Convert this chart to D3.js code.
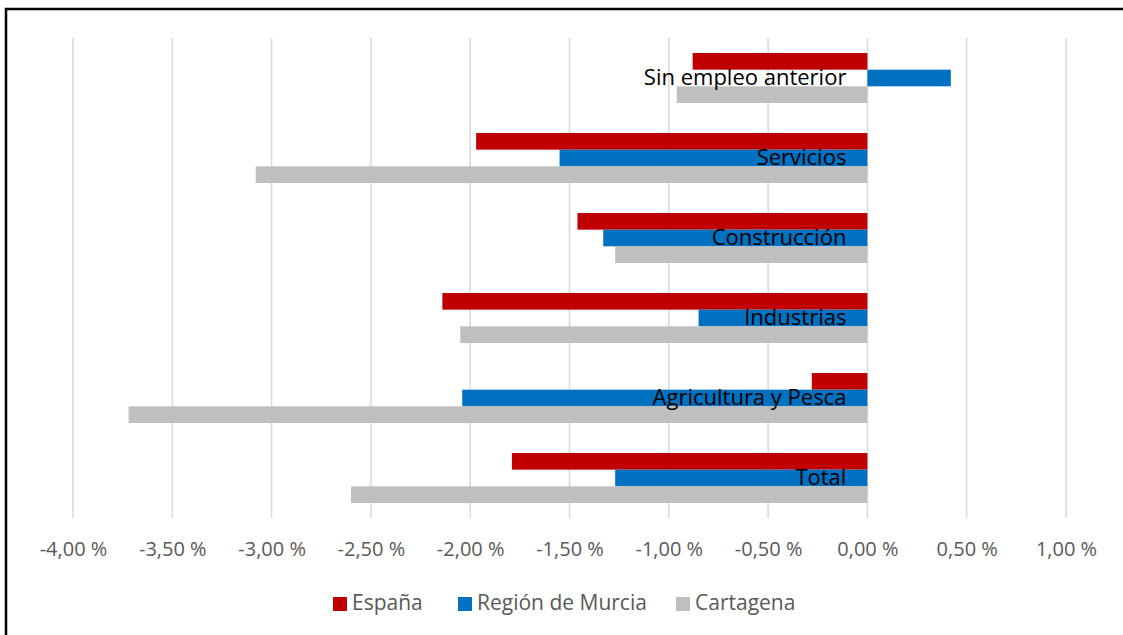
<!DOCTYPE html>
<html>
<head>
<meta charset="utf-8">
<script src="https://cdn.jsdelivr.net/npm/d3@7"></script>
<style>
  body { margin: 0; background: #fff; }
  svg { display: block; font-family: "Open Sans", sans-serif; }
</style>
</head>
<body>
<svg></svg>
<script>
const categories = ['Sin empleo anterior', 'Servicios', 'Construcción', 'Industrias', 'Agricultura y Pesca', 'Total'];
const seriesNames = ['España', 'Región de Murcia', 'Cartagena'];
const espana = [-0.88, -1.97, -1.46, -2.14, -0.28, -1.79];
const murcia = [0.42, -1.55, -1.33, -0.85, -2.04, -1.27];
const cartagena = [-0.96, -3.08, -1.27, -2.05, -3.72, -2.60];
const xTicks = [-4, -3.5, -3, -2.5, -2, -1.5, -1, -0.5, 0, 0.5, 1];
const colors = ['#c00000', '#0070c0', '#bfbfbf'];

const w = 1123;
const h = 635;
let svg = d3.select('svg').attr('width', w).attr('height', h);

// frame
svg.append('rect')
   .attr('x', 6).attr('y', 9)
   .attr('width', w + 20).attr('height', h + 20)
   .attr('fill', 'none').attr('stroke', '#000').attr('stroke-width', 2.5);

let xScale = d3.scaleLinear().domain([-4, 1]).range([73, 1066]);
let yScale = d3.scaleBand().domain(categories).range([38, 518]).paddingInner(0.375).paddingOuter(0.1875);
let subScale = d3.scaleBand().domain(seriesNames).range([0, yScale.bandwidth()]);

// gridlines
svg.append('g').selectAll('line')
   .data(xTicks).enter().append('line')
   .attr('x1', d => xScale(d)).attr('x2', d => xScale(d))
   .attr('y1', 38).attr('y2', 518)
   .attr('stroke', '#d9d9d9').attr('stroke-width', 1.5);

// tick labels via axis
let xAxis = d3.axisBottom(xScale).tickValues(xTicks).tickSize(0)
   .tickFormat(d => d3.format('.2f')(d).replace('.', ',').replace('−', '-') + ' %');
let gx = svg.append('g').attr('transform', 'translate(0, 518)').call(xAxis);
gx.select('.domain').remove();
gx.selectAll('text')
  .attr('dy', 0).attr('y', 38)
  .attr('fill', '#595959').style('font-size', '20px').style('font-family', '"Open Sans", sans-serif');

let series = [espana, murcia, cartagena];
series.forEach((vals, si) => {
  svg.append('g').selectAll('rect')
     .data(vals).enter().append('rect')
     .attr('x', d => xScale(Math.min(0, d)))
     .attr('width', d => Math.abs(xScale(d) - xScale(0)))
     .attr('y', (d, i) => yScale(categories[i]) + subScale(seriesNames[si]))
     .attr('height', subScale.bandwidth())
     .attr('fill', colors[si]);
});

// category labels next to the axis
svg.append('g').selectAll('text')
   .data(categories).enter().append('text')
   .attr('x', xScale(0) - 21)
   .attr('y', d => yScale(d) + yScale.bandwidth() / 2 + 7)
   .attr('text-anchor', 'end')
   .attr('fill', '#000')
   .style('font-size', '22px')
   .text(d => d);

// legend
let legendX = [333, 458, 676];
let lg = svg.append('g');
seriesNames.forEach((s, i) => {
  lg.append('rect').attr('x', legendX[i]).attr('y', 597).attr('width', 14).attr('height', 14).attr('fill', colors[i]);
  lg.append('text').attr('x', legendX[i] + 19).attr('y', 610)
    .attr('fill', '#595959').style('font-size', '21px').text(s);
});
</script>
</body>
</html>
